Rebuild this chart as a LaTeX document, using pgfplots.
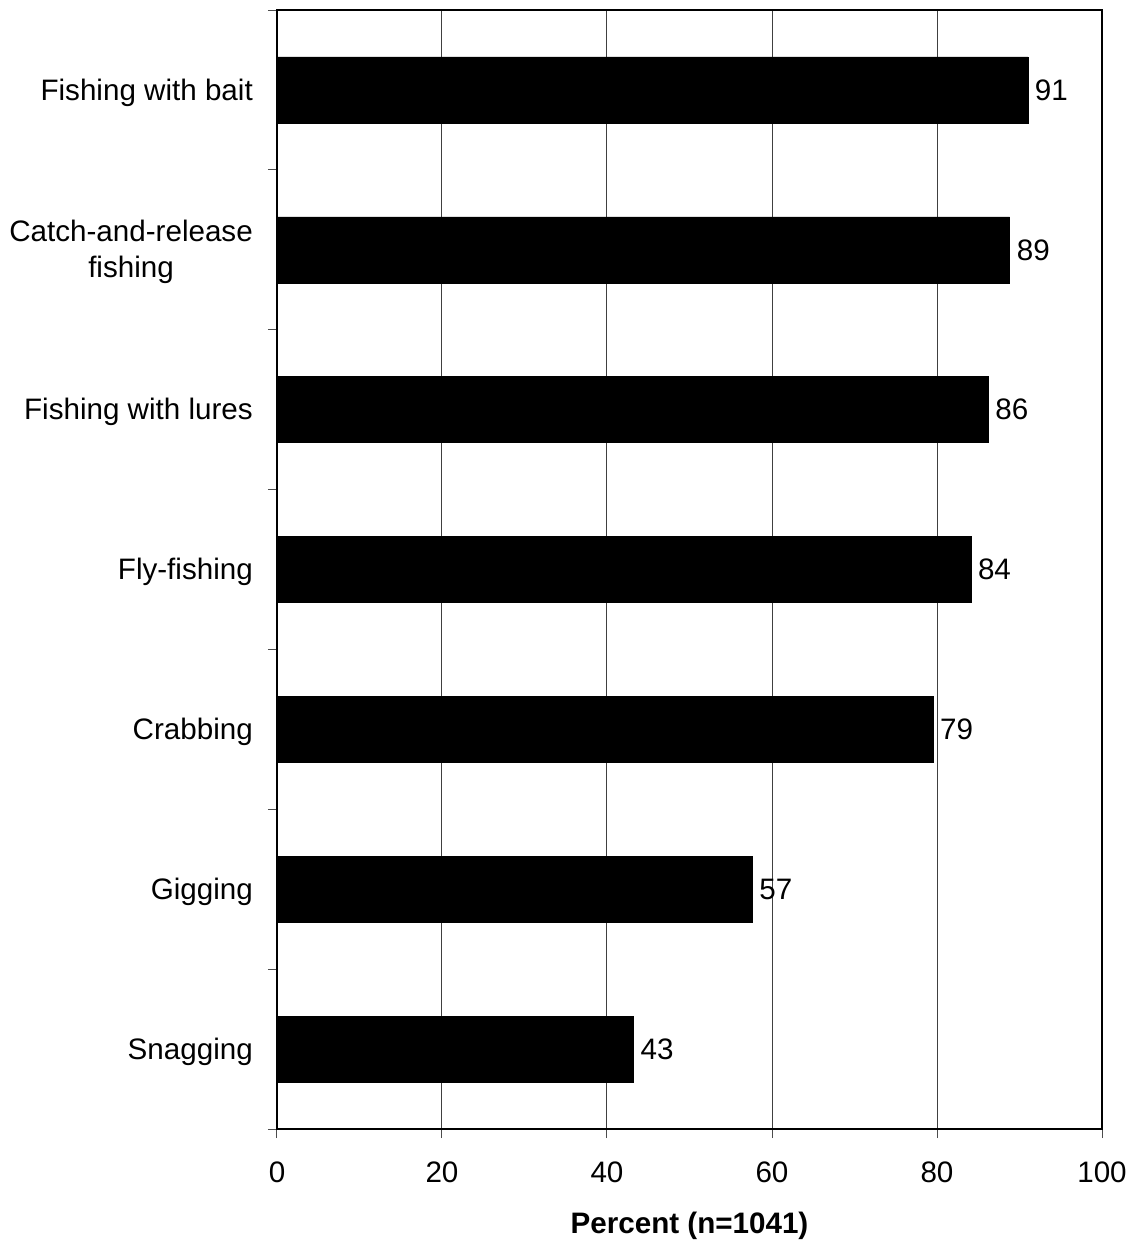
\documentclass[border=0pt]{standalone}
\usepackage{pgfplots}
\pgfplotsset{compat=1.18}
\usepackage{fontspec}
\setmainfont{Liberation Sans}
\newcommand{\chartfont}{\fontsize{29.6}{36}\selectfont}
\begin{document}
\chartfont
\begin{tikzpicture}
\useasboundingbox (-277pt,-111pt) rectangle (856pt,1129pt);
\begin{axis}[
  at={(0pt,0pt)}, anchor=south west,
  scale only axis, width=825pt, height=1119pt,
  xbar, bar width=66pt,
  xmin=0, xmax=100, ymin=-0.5, ymax=6.5,
  xtick={0,20,40,60,80,100},
  ytick={-0.5,0.5,1.5,2.5,3.5,4.5,5.5,6.5}, yticklabels={},
  extra y ticks={0,1,2,3,4,5,6},
  extra y tick labels={Snagging,Gigging,Crabbing,Fly-fishing,Fishing with lures,{Catch-and-release\\fishing},Fishing with bait},
  extra y tick style={major tick length=0pt, ymajorgrids=false,
     yticklabel style={align=center, anchor=east, inner sep=0pt, xshift=-24pt, yshift=-2.5pt}},
  tick align=outside, major tick length=9pt,
  tick style={black!70, line width=1pt},
  xtick pos=bottom, ytick pos=left,
  xmajorgrids, grid style={black!75, line width=1pt},
  axis line style={line width=2pt},
  tick label style={font=\chartfont},
  /pgf/number format/assume math mode=true,
  xticklabel style={anchor=north, inner sep=0pt, yshift=-24pt},
  xlabel={\bfseries Percent (n=1041)},
  xlabel style={at={(axis description cs:0.5,0)}, anchor=north, inner sep=0pt, yshift=-83pt, font=\chartfont},
  nodes near coords, point meta=explicit symbolic,
  nodes near coords style={anchor=west, inner sep=7pt, font=\chartfont},
]
\addplot[fill=black, draw=black] coordinates {
  (43.2,0) [43]
  (57.6,1) [57]
  (79.5,2) [79]
  (84.1,3) [84]
  (86.2,4) [86]
  (88.8,5) [89]
  (91.0,6) [91]
};
\end{axis}
\end{tikzpicture}
\end{document}
